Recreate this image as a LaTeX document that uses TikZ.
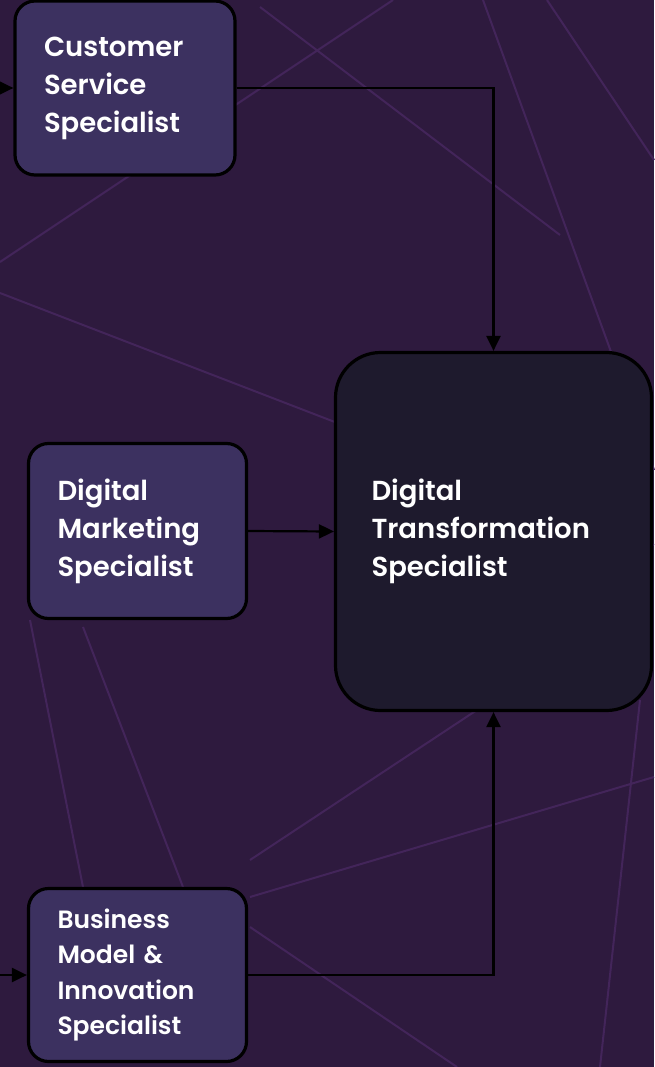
\documentclass[tikz,border=0pt]{standalone}
\usepackage{fontspec}
\setmainfont{Poppins}[UprightFont=* Medium,BoldFont=* SemiBold]
\usetikzlibrary{arrows.meta}

\definecolor{bgpurple}{HTML}{2E1A3E}
\definecolor{streak}{HTML}{43255A}
\definecolor{boxfill}{HTML}{3C3160}
\definecolor{bigfill}{HTML}{1E1A2D}

\tikzset{
  role/.style={draw=black, line width=3.2pt, fill=boxfill, rounded corners=20pt, text=white,
    font=\bfseries\fontsize{27.5}{38}\selectfont, align=left, inner xsep=29pt, inner ysep=0pt},
  flow/.style={line width=2.2pt, -{Triangle[length=15pt,width=14pt]}},
}

\begin{document}
\begin{tikzpicture}[x=1pt,y=-1pt]
\fill[bgpurple] (0,0) rectangle (654,1067);
\useasboundingbox (0,0) rectangle (654,1067);
% faint streaks in the backdrop
\draw[streak, line width=2pt] (0,293) -- (654,545)  (0,262) -- (393,0)  (260,7) -- (560,235)
  (483,0) -- (654,470)  (547,0) -- (654,160)  (250,860) -- (480,708)  (250,897) -- (654,777)
  (250,927) -- (457,1067)  (30,620) -- (83,887)  (83,627) -- (183,887)
  (640,700) -- (600,1067);

\node[role, text width=162pt, minimum width=220pt, minimum height=174pt] (cust) at (125,88) {Customer\\Service\\Specialist};
\node[role, text width=160pt, minimum width=218pt, minimum height=175pt] (mark) at (137.5,531) {Digital\\Marketing\\Specialist};
\node[role, text width=160pt, minimum width=218pt, minimum height=173pt, font=\bfseries\fontsize{25}{35.5}\selectfont] (biz) at (137.5,975) {Business\\Model \&\\Innovation\\Specialist};
\node[role, fill=bigfill, rounded corners=45pt, inner xsep=36pt, text width=244pt, minimum width=316pt, minimum height=358pt] (dts) at (493.5,531.5) {Digital\\Transformation\\Specialist};

\coordinate (inA) at (0,88);
\coordinate (inC) at (0,975);

\draw[flow] (inA) -- (cust.west);
\draw[flow] (inC) -- (biz.west);
\draw[flow] (cust.east) -| (dts.north);
\draw[flow] (mark.east) -- (dts.west);
\draw[flow] (biz.east) -| (dts.south);
\end{tikzpicture}
\end{document}
